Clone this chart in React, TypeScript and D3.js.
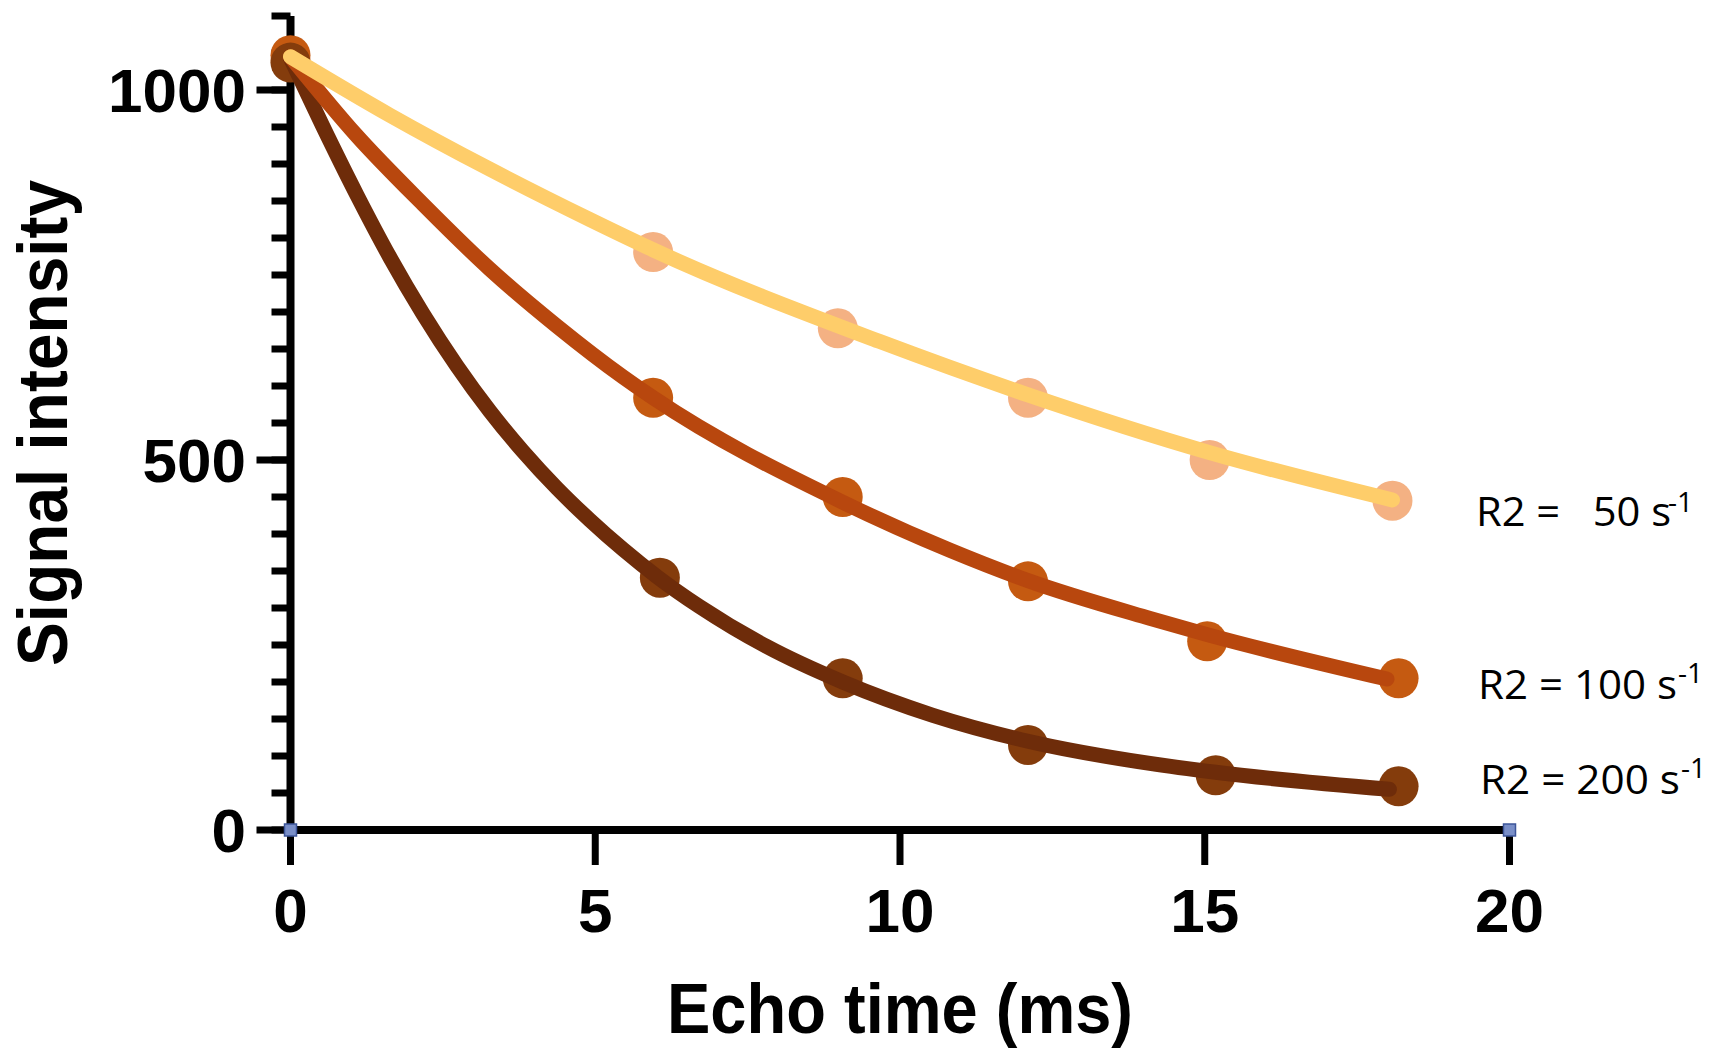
import React, { useEffect, useRef } from 'react';
import * as d3 from 'd3';

const W = 1709;
const H = 1051;

// axis ticks
const xTicks = [0, 5, 10, 15, 20];
const yMajorTicks = [0, 500, 1000];
const yMinorTicks = [0, 50, 100, 150, 200, 250, 300, 350, 400, 450, 500, 550, 600, 650, 700, 750, 800, 850, 900, 950, 1000, 1050, 1100];

// series labels
const seriesLabels = ['R2 =   50 s', 'R2 = 100 s', 'R2 = 200 s'];
const seriesSup = ['-1', '-1', '-1'];

// measured points (echo time ms, signal)
const tYellow = [0, 5.95, 8.98, 12.1, 15.08, 18.08];
const sYellow = [1040, 781, 678, 584, 500, 445];
const tOrange = [0, 5.95, 9.06, 12.1, 15.04, 18.18];
const sOrange = [1047, 584, 450, 336, 255, 205];
const tBrown = [0, 6.06, 9.06, 12.1, 15.18, 18.18];
const sBrown = [1037, 341, 205, 115, 74, 59];

// fitted curves
const fitTYellow = [0, 1.63, 3.27, 4.91, 5.95, 9.67, 12.1, 15.08, 18.08];
const fitSYellow = [1045, 966, 893, 825, 784, 660, 588, 510, 446];
const fitTOrange = [0, 1.09, 2.17, 3.27, 4.37, 5.46, 5.95, 9.06, 10.82, 12.1, 14.1, 15.04, 17.99];
const fitSOrange = [1045, 938, 846, 758, 681, 612, 584, 443, 378, 337, 286, 264, 204];
const fitTBrown = [0, 0.53, 1.09, 1.63, 2.17, 2.73, 3.27, 3.81, 4.37, 4.91, 5.46, 6.02, 6.71, 7.81, 9.06, 10.54, 12.1, 14.1, 15.18, 18.03];
const fitSBrown = [1043, 951, 858, 774, 698, 627, 566, 512, 462, 419, 379, 342, 302, 248, 200, 155, 120, 90, 78, 55];

const lineColors = ['#FECD6A', '#B8470E', '#6E2C0A'];
const markerColors = ['#F4B183', '#C55A11', '#843C0C'];

const AXIS_FONT = '"Liberation Sans", Arial, Helvetica, sans-serif';
const LABEL_FONT = '"Open Sans", "Noto Sans", sans-serif';

export default function App() {
  const xAxisRef = useRef<SVGGElement>(null);
  const yAxisRef = useRef<SVGGElement>(null);
  const yMinorRef = useRef<SVGGElement>(null);

  const x = d3.scaleLinear().domain([0, 20]).range([290.5, 1509.5]);
  const y = d3.scaleLinear().domain([0, 1100]).range([830, 16]);

  const line = d3
    .line<[number, number]>()
    .x((d) => x(d[0]))
    .y((d) => y(d[1]))
    .curve(d3.curveMonotoneX);

  const fits: [number, number][][] = [
    fitTYellow.map((t, i) => [t, fitSYellow[i]] as [number, number]),
    fitTOrange.map((t, i) => [t, fitSOrange[i]] as [number, number]),
    fitTBrown.map((t, i) => [t, fitSBrown[i]] as [number, number]),
  ];
  const points: [number, number][][] = [
    tYellow.map((t, i) => [t, sYellow[i]] as [number, number]),
    tOrange.map((t, i) => [t, sOrange[i]] as [number, number]),
    tBrown.map((t, i) => [t, sBrown[i]] as [number, number]),
  ];

  useEffect(() => {
    const gx = d3.select(xAxisRef.current!);
    gx.call(
      d3
        .axisBottom(x)
        .tickValues(xTicks)
        .tickSize(35)
        .tickSizeOuter(0)
        .tickPadding(23)
        .offset(0)
        .tickFormat(d3.format('d'))
    );
    gx.select('.domain').attr('stroke', '#000').attr('stroke-width', 8);
    gx.selectAll('.tick line').attr('stroke', '#000').attr('stroke-width', 7);
    gx.selectAll('.tick text')
      .attr('fill', '#000')
      .style('font-family', AXIS_FONT)
      .style('font-weight', '700')
      .style('font-size', '62px');

    const gy = d3.select(yAxisRef.current!);
    gy.call(
      d3
        .axisLeft(y)
        .tickValues(yMajorTicks)
        .tickSize(34)
        .tickSizeOuter(0)
        .tickPadding(10.5)
        .offset(0)
        .tickFormat(d3.format('d'))
    );
    gy.select('.domain').attr('stroke', '#000').attr('stroke-width', 8);
    gy.selectAll('.tick line').attr('stroke', '#000').attr('stroke-width', 7);
    gy.selectAll('.tick text')
      .attr('fill', '#000')
      .attr('dy', '0.355em')
      .style('font-family', AXIS_FONT)
      .style('font-weight', '700')
      .style('font-size', '62px');

    const gm = d3.select(yMinorRef.current!);
    gm.call(
      d3
        .axisLeft(y)
        .tickValues(yMinorTicks)
        .tickSize(19)
        .tickSizeOuter(0)
        .offset(0)
        .tickFormat(() => '')
    );
    gm.select('.domain').remove();
    gm.selectAll('.tick line').attr('stroke', '#000').attr('stroke-width', 7);
  }, []);

  const labelPos = [
    { x: 1476, y: 526, len: 195, supX: 1668, supDy: -14 },
    { x: 1478, y: 699, len: 199, supX: 1678, supDy: -16 },
    { x: 1480, y: 794, len: 200, supX: 1681, supDy: -16 },
  ];

  return (
    <svg
      width={W}
      height={H}
      viewBox={`0 0 ${W} ${H}`}
      style={{ position: 'absolute', left: 0, top: 0, background: '#fff' }}
    >
      <rect x={0} y={0} width={W} height={H} fill="#fff" />

      {/* axes */}
      <g ref={yMinorRef} transform={`translate(${x(0)},0)`} />
      <g ref={yAxisRef} transform={`translate(${x(0)},0)`} />
      <g ref={xAxisRef} transform={`translate(0,${y(0)})`} />

      {/* markers */}
      {points.map((pts, si) => (
        <g key={`m${si}`}>
          {pts.map((p, i) => (
            <circle key={i} cx={x(p[0])} cy={y(p[1])} r={20} fill={markerColors[si]} />
          ))}
        </g>
      ))}

      {/* fitted curves */}
      {[2, 1, 0].map((si) => (
        <path
          key={`l${si}`}
          d={line(fits[si]) || ''}
          fill="none"
          stroke={lineColors[si]}
          strokeWidth={15}
          strokeLinecap="round"
          strokeLinejoin="round"
        />
      ))}

      {/* selection handles */}
      {[0, 20].map((v) => (
        <rect
          key={`h${v}`}
          x={x(v) - 6}
          y={y(0) - 6}
          width={12}
          height={12}
          fill="#7a8fc8"
          stroke="#3d5599"
          strokeWidth={1.5}
        />
      ))}

      {/* series labels */}
      {seriesLabels.map((lab, i) => (
        <g key={`t${i}`}>
          <text
            x={labelPos[i].x}
            y={labelPos[i].y}
            textLength={labelPos[i].len}
            lengthAdjust="spacingAndGlyphs"
            style={{ whiteSpace: 'pre', fontFamily: LABEL_FONT, fontSize: '41px' }}
            fill="#000"
          >
            {lab}
          </text>
          <text
            x={labelPos[i].supX}
            y={labelPos[i].y + labelPos[i].supDy}
            style={{ fontFamily: LABEL_FONT, fontSize: '28px' }}
            fill="#000"
          >
            {seriesSup[i]}
          </text>
        </g>
      ))}

      {/* axis titles */}
      <text
        x={900}
        y={1033}
        textAnchor="middle"
        textLength={466}
        lengthAdjust="spacingAndGlyphs"
        style={{ fontFamily: AXIS_FONT, fontWeight: 700, fontSize: '70px' }}
        fill="#000"
      >
        Echo time (ms)
      </text>
      <text
        transform={`translate(67,${(y(0) + y(1100)) / 2}) rotate(-90)`}
        textAnchor="middle"
        textLength={486}
        lengthAdjust="spacingAndGlyphs"
        style={{ fontFamily: AXIS_FONT, fontWeight: 700, fontSize: '70px' }}
        fill="#000"
      >
        Signal intensity
      </text>
    </svg>
  );
}
